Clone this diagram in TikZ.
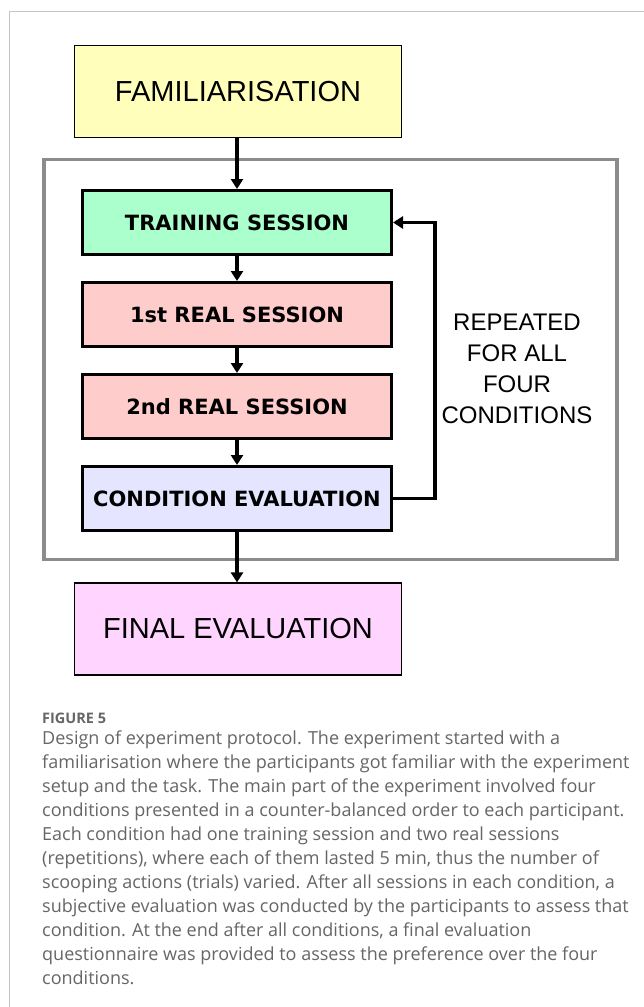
\documentclass[tikz,border=0pt]{standalone}
\usepackage{fontspec}
\setmainfont{Liberation Sans}
\newfontfamily\boxbold{DejaVu Sans}[BoldFont={DejaVu Sans Bold}]
\newfontfamily\capfont{Open Sans}
\usetikzlibrary{arrows.meta}
\definecolor{famfill}{HTML}{FFFFBB}
\definecolor{trainfill}{HTML}{AAFFCC}
\definecolor{realfill}{HTML}{FFCCCC}
\definecolor{condfill}{HTML}{E5E5FF}
\definecolor{finalfill}{HTML}{FFD5FF}
\definecolor{framegrey}{HTML}{8C8C8C}
\definecolor{pagegrey}{HTML}{C4C4C4}
\definecolor{captext}{HTML}{666666}
\tikzset{
  bigbox/.style={draw=black, line width=1.2pt, minimum width=327pt, minimum height=92pt, inner sep=0pt,
    font=\fontsize{29}{34}\selectfont},
  stepbox/.style={draw=black, line width=3pt, minimum width=309pt, minimum height=64pt, inner sep=0pt,
    font=\boxbold\bfseries\fontsize{21}{24}\selectfont},
  flow/.style={line width=3.6pt, -{Triangle[length=10pt,width=12pt]}},
  captxt/.style={anchor=base west, inner sep=0pt, text=captext, font=\capfont\fontsize{18}{24}\selectfont}
}
\begin{document}
\begin{tikzpicture}[x=1pt,y=-1pt]
\useasboundingbox (0,0) rectangle (644,1007);
\fill[white] (0,0) rectangle (644,1007);
% page border
\draw[pagegrey, line width=1pt] (9,1007) -- (9,11) -- (644,11);
% outer repeat frame
\draw[framegrey, line width=3.5pt] (44,159.5) rectangle (617,559.5);
% boxes
\node[bigbox, fill=famfill] (fam) at (238,91.5) {FAMILIARISATION};
\node[stepbox, fill=trainfill] (train) at (237,222.5) {TRAINING SESSION};
\node[stepbox, fill=realfill] (real1) at (237,314.5) {1st REAL SESSION};
\node[stepbox, fill=realfill] (real2) at (237,406.5) {2nd REAL SESSION};
\node[stepbox, fill=condfill] (cond) at (237,498.5) {CONDITION EVALUATION};
\node[bigbox, fill=finalfill] (final) at (238,629) {FINAL EVALUATION};
% arrows
\draw[flow] (fam.south -| train.north) -- (train.north);
\draw[flow] (train) -- (real1);
\draw[flow] (real1) -- (real2);
\draw[flow] (real2) -- (cond);
\draw[flow] (cond.south) -- (final.north -| cond.south);
\coordinate (loopx) at (435,0);
\draw[flow] (cond.east) -- (cond.east -| loopx) -- (train.east -| loopx) -- (train.east);
% repeated label
\node[font=\fontsize{24}{31}\selectfont, align=center, inner sep=0pt] (rep) at (517,369)
  {REPEATED\\FOR ALL\\FOUR\\CONDITIONS};
% caption
\node[anchor=base west, inner sep=0pt, text=captext, font=\capfont\bfseries\fontsize{14.5}{17}\selectfont] (fig) at (42,723) {FIGURE 5};
\node[captxt] (c1) at (42,744) {Design of experiment protocol. The experiment started with a};
\node[captxt] (c2) at (42,768) {familiarisation where the participants got familiar with the experiment};
\node[captxt] (c3) at (42,792) {setup and the task. The main part of the experiment involved four};
\node[captxt] (c4) at (42,816) {conditions presented in a counter-balanced order to each participant.};
\node[captxt] (c5) at (42,840) {Each condition had one training session and two real sessions};
\node[captxt] (c6) at (42,864) {(repetitions), where each of them lasted 5 min, thus the number of};
\node[captxt] (c7) at (42,888) {scooping actions (trials) varied. After all sessions in each condition, a};
\node[captxt] (c8) at (42,912) {subjective evaluation was conducted by the participants to assess that};
\node[captxt] (c9) at (42,936) {condition. At the end after all conditions, a final evaluation};
\node[captxt] (c10) at (42,960) {questionnaire was provided to assess the preference over the four};
\node[captxt] (c11) at (42,984) {conditions.};
\end{tikzpicture}
\end{document}
